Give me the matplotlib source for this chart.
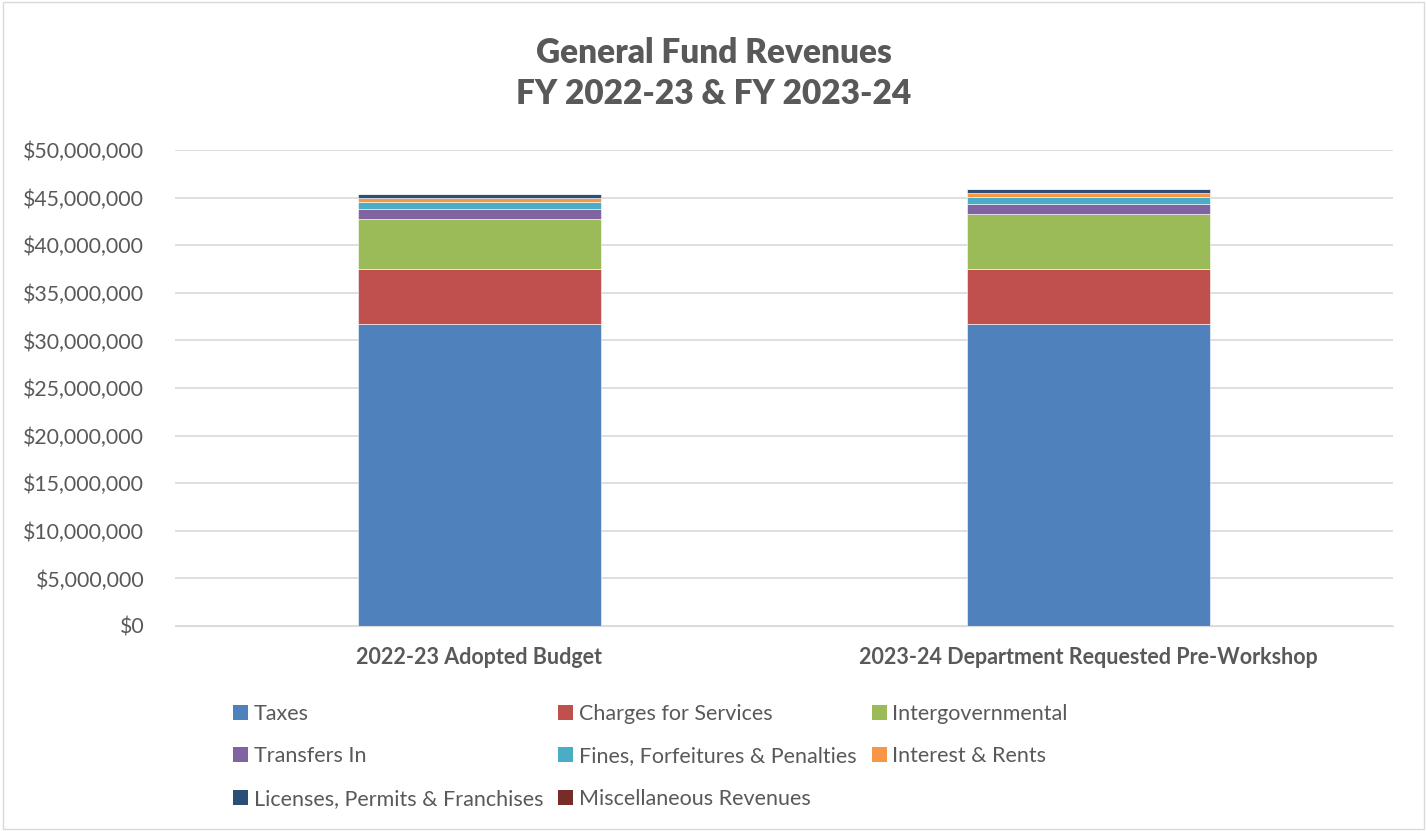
import numpy as np
import matplotlib.pyplot as plt
from matplotlib.ticker import FuncFormatter
from matplotlib.patches import Patch

plt.rcParams['font.family'] = ['Lato', 'DejaVu Sans']

categories = ['2022-23 Adopted Budget', '2023-24 Department Requested Pre-Workshop']
series = ['Taxes', 'Charges for Services', 'Intergovernmental', 'Transfers In',
          'Fines, Forfeitures & Penalties', 'Interest & Rents',
          'Licenses, Permits & Franchises', 'Miscellaneous Revenues']
# values in dollars
taxes = [31720000, 31760000]
charges = [5800000, 5770000]
intergov = [5250000, 5740000]
transfers = [1050000, 1020000]
fines = [740000, 770000]
interest = [420000, 380000]
licenses = [390000, 420000]
misc = [30000, 30000]

colors = ['#4F81BD', '#C0504D', '#9BBB59', '#8064A2',
          '#4BACC6', '#F79646', '#2C4D75', '#772C2A']
text_col = '#595959'
grid_col = '#D9D9D9'

fig = plt.figure(figsize=(14.27, 8.31), dpi=100)
ax = fig.add_axes([0.1226, 0.2467, 0.8535, 0.5728])

x = np.arange(len(categories))
bottom = np.zeros(len(categories))
for vals, c in zip([taxes, charges, intergov, transfers, fines, interest, licenses, misc], colors):
    ax.bar(x, vals, width=0.4, bottom=bottom, color=c, edgecolor='white', linewidth=0.4)
    bottom += np.array(vals)

ax.set_xlim(-0.5, 1.5)
ax.set_ylim(0, 50000000)
ax.set_yticks(np.arange(0, 50000001, 5000000))
ax.yaxis.set_major_formatter(FuncFormatter(lambda v, p: '${:,.0f}'.format(v)))
ax.set_xticks(x)
ax.set_xticklabels(categories, fontsize=15.5, fontweight='bold', color=text_col)
ax.tick_params(axis='y', labelsize=15.3, colors=text_col, length=0, pad=22)
ax.tick_params(axis='x', length=0, pad=15)

for s in ['top', 'right', 'left']:
    ax.spines[s].set_visible(False)
ax.spines['bottom'].set_color(grid_col)
ax.set_axisbelow(True)
ax.yaxis.grid(color=grid_col, linewidth=1.2)

fig.text(0.5, 0.912, 'General Fund Revenues\nFY 2022-23 & FY 2023-24', ha='center', va='center',
         fontsize=24, fontweight='heavy', color=text_col, linespacing=1.35)

handles = [Patch(facecolor=c, label=s) for c, s in zip(colors, series)]
order = [0, 3, 6, 1, 4, 7, 2, 5]
fig.legend([handles[i] for i in order], [series[i] for i in order], ncol=3,
           loc='upper left', bbox_to_anchor=(0.156, 0.166), frameon=False,
           fontsize=15.5, labelcolor=text_col, handlelength=0.7, handleheight=0.7,
           handletextpad=0.25, columnspacing=0.7, labelspacing=1.05, borderpad=0)

fig.patches.append(plt.Rectangle((0.002, 0.002), 0.996, 0.996, transform=fig.transFigure,
                                 fill=False, edgecolor='#D9D9D9', linewidth=1))

fig.savefig('out.png', dpi=100)
